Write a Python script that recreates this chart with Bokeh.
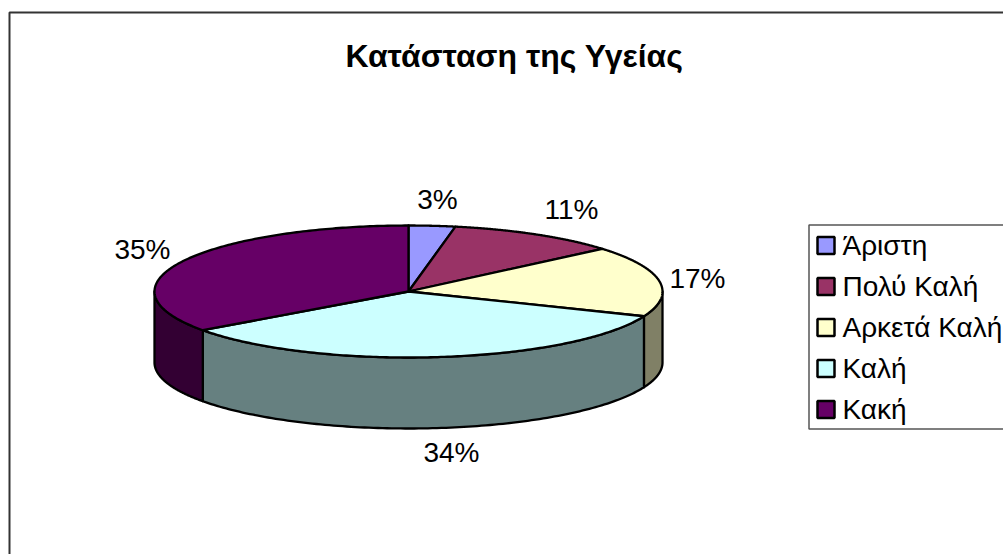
import numpy as np
from bokeh.plotting import figure
from bokeh.models import Range1d
from bokeh.core.properties import value
from bokeh.embed import file_html
from bokeh.resources import INLINE

title = "Κατάσταση της Υγείας"
categories = ["Άριστη", "Πολύ Καλή", "Αρκετά Καλή", "Καλή", "Κακή"]
shares = [2.96, 10.86, 17.3, 33.9, 34.98]
pct_labels = ["3%", "11%", "17%", "34%", "35%"]
colors = ["#9999FF", "#993366", "#FFFFCC", "#CCFFFF", "#660066"]
side_colors = ["#4D4D80", "#4D1A33", "#808066", "#668080", "#330033"]

# layout, in reference pixels
CX, CY, RX, RY, DEPTH = 408, 291, 254, 66, 71
label_x = [437, 571, 697, 451, 142]
label_y = [199, 209, 278, 452, 249]

W, H = 1003, 554
p = figure(width=W, height=H, output_backend="svg", toolbar_location=None,
           x_range=Range1d(0, W), y_range=Range1d(H, 0),
           min_border=0, outline_line_color=None,
           background_fill_color="white", border_fill_color="white")
p.axis.visible = False
p.grid.visible = False

FONT = value("Liberation Sans")

# chart frame
p.line([9, 9, 1010], [570, 12, 12], line_color="#333333", line_width=2)

def ex(t):
    return CX + RX * np.sin(t)

def ey(t, drop=0):
    return CY - RY * np.cos(t) + drop

total = sum(shares)
edges = 2 * np.pi * np.cumsum([0] + shares) / total

# sides: only the arc on the near half of the ellipse shows
sx, sy, sc = [], [], []
for i in range(len(shares)):
    a = max(edges[i], np.pi / 2)
    b = min(edges[i + 1], 3 * np.pi / 2)
    if b <= a:
        continue
    t = np.linspace(a, b, 120)
    sx.append(np.r_[ex(t), ex(t[::-1])])
    sy.append(np.r_[ey(t), ey(t[::-1], DEPTH)])
    sc.append(side_colors[i])
p.patches(sx, sy, fill_color=sc, line_color="black", line_width=2.3, line_join="round")

# top slices
tx, ty = [], []
for i in range(len(shares)):
    t = np.linspace(edges[i], edges[i + 1], 160)
    tx.append(np.r_[CX, ex(t)])
    ty.append(np.r_[CY, ey(t)])
p.patches(tx, ty, fill_color=colors, line_color="black", line_width=2.3, line_join="round")

# percentage labels
p.text(label_x, label_y, text=pct_labels, text_font=FONT, text_font_size="28px",
       text_color="black", text_align="center", text_baseline="middle")

# title
p.text([514], [55], text=[title], text_font=FONT, text_font_size="32px",
       text_font_style="bold", text_color="black", text_align="center", text_baseline="middle")

# legend
p.quad(left=[808.5], right=[1020], top=[224.5], bottom=[428.5], fill_color="white",
       line_color="#555555", line_width=1.5)
rows = [245 + 41 * i for i in range(len(categories))]
p.quad(left=[817] * 5, right=[834] * 5, top=[r - 8.5 for r in rows], bottom=[r + 8.5 for r in rows],
       fill_color=colors, line_color="black", line_width=2.5)
p.text([842] * 5, rows, text=categories, text_font=FONT, text_font_size="28px",
       text_color="black", text_align="left", text_baseline="middle")

open("out.html", "w").write(file_html(p, INLINE))
